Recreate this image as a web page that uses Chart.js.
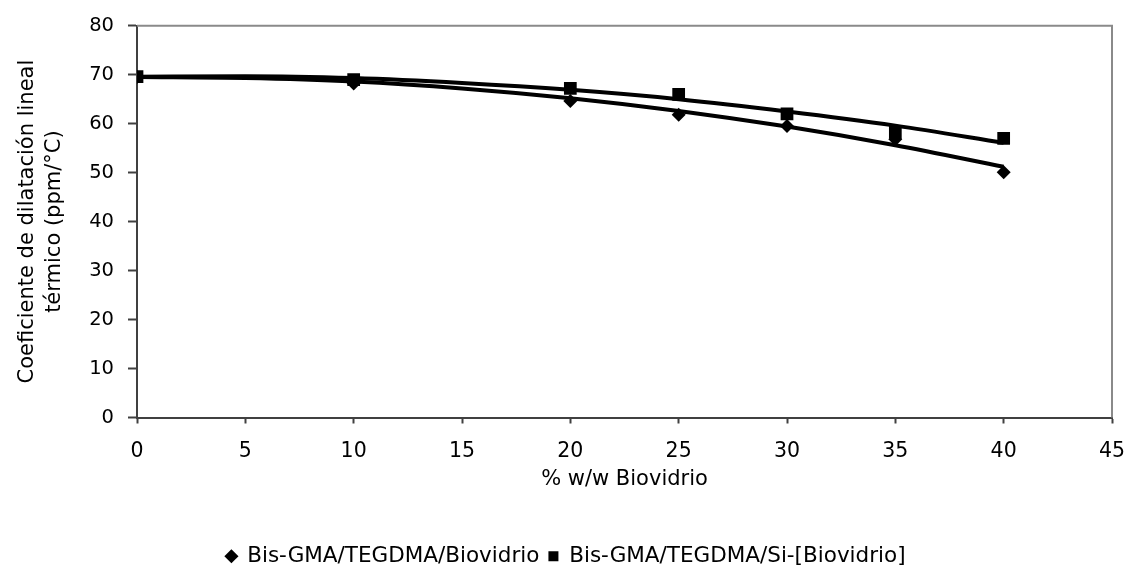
<!DOCTYPE html>
<html>
<head>
<meta charset="utf-8">
<title>Coeficiente de dilatación lineal térmico</title>
<script src="https://cdn.jsdelivr.net/npm/chart.js@4.4.1/dist/chart.umd.min.js"></script>
<style>
  html, body { margin: 0; padding: 0; background: #fff; }
  #wrap { width: 1130px; height: 567px; }
</style>
</head>
<body>
<div id="wrap"><canvas id="myChart" width="1130" height="567"></canvas></div>
<script>
// measured points, % w/w biovidrio vs. CTE (ppm/°C)
var loadings = [0, 10, 20, 25, 30, 35, 40];
var cteBiovidrio = [69.5, 68.2, 64.6, 61.8, 59.5, 56.8, 50.1];
var cteSilanizado = [69.6, 69.0, 67.2, 66.0, 62.0, 58.2, 57.0];

// polynomial trend lines (as plotted)
var trendX = [0, 5, 10, 15, 20, 25, 30, 35, 40];
var trendBiovidrio = [69.5, 69.3, 68.6, 67.2, 65.2, 62.6, 59.4, 55.6, 51.2];
var trendSilanizado = [69.6, 69.7, 69.3, 68.3, 66.9, 65.0, 62.5, 59.6, 56.1];

var xTicks = [0, 5, 10, 15, 20, 25, 30, 35, 40, 45];
var yTicks = [0, 10, 20, 30, 40, 50, 60, 70, 80];

var seriesNames = ['Bis-GMA/TEGDMA/Biovidrio', 'Bis-GMA/TEGDMA/Si-[Biovidrio]'];

function pairs(xs, ys) {
  return xs.map(function (x, i) { return { x: x, y: ys[i] }; });
}

Chart.defaults.font.family = '"DejaVu Sans", Arial, sans-serif';
Chart.defaults.color = '#000';

// gray frame on top and right of the plot area
var frame = {
  id: 'frame',
  beforeDatasetsDraw: function (chart) {
    var a = chart.chartArea, c = chart.ctx;
    c.save();
    c.strokeStyle = '#8a8a8a';
    c.lineWidth = 2;
    c.beginPath();
    c.moveTo(a.left, a.top);
    c.lineTo(a.right, a.top);
    c.lineTo(a.right, a.bottom);
    c.stroke();
    c.restore();
  }
};

var ctx = document.getElementById('myChart').getContext('2d');
var myChart = new Chart(ctx, {
  type: 'scatter',
  data: {
    datasets: [{
      label: seriesNames[0],
      data: pairs(loadings, cteBiovidrio),
      pointStyle: 'rectRot',
      pointRadius: 7,
      backgroundColor: '#000',
      borderColor: '#000',
      borderWidth: 0,
      showLine: false
    }, {
      label: seriesNames[1],
      data: pairs(loadings, cteSilanizado),
      pointStyle: 'rect',
      pointRadius: 9,
      backgroundColor: '#000',
      borderColor: '#000',
      borderWidth: 0,
      showLine: false
    }, {
      label: 'trend 1',
      data: pairs(trendX, trendBiovidrio),
      showLine: true,
      pointRadius: 0,
      borderColor: '#000',
      borderWidth: 4,
      cubicInterpolationMode: 'monotone'
    }, {
      label: 'trend 2',
      data: pairs(trendX, trendSilanizado),
      showLine: true,
      pointRadius: 0,
      borderColor: '#000',
      borderWidth: 4,
      cubicInterpolationMode: 'monotone'
    }]
  },
  options: {
    responsive: false,
    animation: false,
    // left padding nudges the legend to the right; y axis width makes up for it
    layout: { padding: { left: 20, right: 18, top: 14, bottom: -10 } },
    plugins: {
      tooltip: { enabled: false },
      legend: {
        position: 'bottom',
        labels: {
          usePointStyle: true,
          boxHeight: 10,
          boxWidth: 10,
          padding: 9,
          font: { size: 21.5 },
          filter: function (item) { return item.datasetIndex < 2; }
        }
      }
    },
    scales: {
      x: {
        type: 'linear',
        min: 0,
        max: 45,
        afterBuildTicks: function (s) { s.ticks = xTicks.map(function (v) { return { value: v }; }); },
        afterFit: function (s) { s.height = 119; },
        grid: { drawOnChartArea: false, tickLength: 6, tickColor: '#404040', tickWidth: 2 },
        border: { color: '#404040', width: 2 },
        // tall line height pushes the labels further below the axis
        ticks: { padding: 3, font: { size: 20.5, lineHeight: 2.44 }, maxRotation: 0 },
        title: { display: true, text: '% w/w Biovidrio', font: { size: 21 }, padding: { top: 0, bottom: 44 } }
      },
      y: {
        min: 0,
        max: 80,
        afterBuildTicks: function (s) { s.ticks = yTicks.map(function (v) { return { value: v }; }); },
        afterFit: function (s) { s.width = 117; },
        grid: { drawOnChartArea: false, tickLength: 9, tickColor: '#404040', tickWidth: 2 },
        border: { color: '#404040', width: 2 },
        ticks: { padding: 14, font: { size: 19.5 } },
        title: {
          display: true,
          text: ['Coeficiente de dilatación lineal', 'térmico (ppm/°C)'],
          font: { size: 21, lineHeight: 1.29 },
          padding: { top: -6, bottom: 0 }
        }
      }
    }
  },
  plugins: [frame]
});
</script>
</body>
</html>
